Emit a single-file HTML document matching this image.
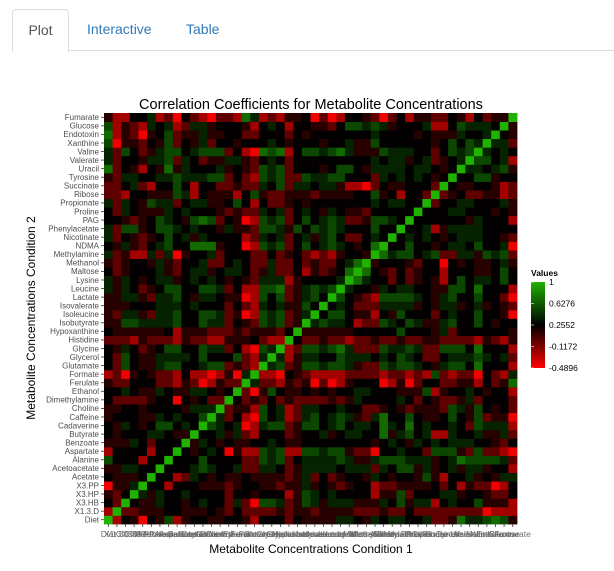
<!DOCTYPE html>
<html><head><meta charset="utf-8"><style>
body{margin:0;background:#fff;font-family:"Liberation Sans",sans-serif;width:614px;height:571px;overflow:hidden;position:relative}
.tab{position:absolute;top:9px;height:41px;line-height:41px;font-size:14px}
</style></head><body>
<div style="position:absolute;left:68px;top:50px;width:546px;height:1px;background:#ddd"></div>
<div class="tab" style="left:12px;width:55px;border:1px solid #ddd;border-bottom:none;border-radius:4px 4px 0 0;background:#fff;color:#555;text-align:center;height:42px">Plot</div>
<div class="tab" style="left:87px;color:#337ab7">Interactive</div>
<div class="tab" style="left:186px;color:#337ab7">Table</div>
<svg id="chart" width="614" height="571" style="position:absolute;left:0;top:0" xmlns="http://www.w3.org/2000/svg">
<text x="311" y="109" text-anchor="middle" font-size="14.5" fill="#000" font-family="Liberation Sans, sans-serif">Correlation Coefficients for Metabolite Concentrations</text>
<text x="311" y="553" text-anchor="middle" font-size="12" fill="#000" font-family="Liberation Sans, sans-serif">Metabolite Concentrations Condition 1</text>
<text transform="translate(35,318) rotate(-90)" text-anchor="middle" font-size="12" fill="#000" font-family="Liberation Sans, sans-serif">Metabolite Concentrations Condition 2</text>
<g id="cells"></g><g id="ylab"></g><g id="xlab"></g>
<defs><linearGradient id="lg" x1="0" y1="1" x2="0" y2="0">
<stop offset="0" stop-color="#ff0000"/><stop offset="0.5" stop-color="#000"/><stop offset="1" stop-color="#1fb300"/></linearGradient></defs>
<text x="531" y="276" font-size="8.5" font-weight="bold" font-family="Liberation Sans, sans-serif">Values</text>
<rect x="531" y="282" width="14" height="86" fill="url(#lg)"/>
<g id="leg" font-size="8.5" fill="#000" font-family="Liberation Sans, sans-serif"></g>
</svg>
<script>
const metabolites = ["Diet","X1.3.D","X3.HB","X3.HP","X3.PP","Acetate","Acetoacetate","Alanine","Aspartate","Benzoate","Butyrate","Cadaverine","Caffeine","Choline","Dimethylamine","Ethanol","Ferulate","Formate","Glutamate","Glycerol","Glycine","Histidine","Hypoxanthine","Isobutyrate","Isoleucine","Isovalerate","Lactate","Leucine","Lysine","Maltose","Methanol","Methylamine","NDMA","Nicotinate","Phenylacetate","PAG","Proline","Propionate","Ribose","Succinate","Tyrosine","Uracil","Valerate","Valine","Xanthine","Endotoxin","Glucose","Fumarate"];
// correlation level codes -> values
const levelValues = [-0.45,-0.22,-0.02,0.14,0.25,0.4,0.55,0.7,0.85];
// lower triangle (row i, columns 0..i-1) as level codes
const lowerTriangle = ["",
"1","42","324","0335","43334","335544","6444144","14444144","333542444","4344455433",
"43543466454","344433545446","3344344443555","42222344043422","445433543355434",
"3224442213201322",
"1203432214110130 5",
"4264335664456623 21",
"4264335555464446 215",
"4354234664465524 1065",
"2221322213221133 34211",
"4333333413332223 233324",
"3366555564465524 3265623",
"3255325564466523 01656235",
"3334445554544424 215453364",
"3355325564355433 0164623564",
"5354234664466524 11667235656",
"5354345534545434 325551344445",
"4234445324553455 4235224132347",
"3234435324452245 42252242322457",
"5231152503445244 422423421213443",
"4353245644777344 0165624645654347",
"5243234645354444 1254524535642245 4",
"5266346654544353 3266536465654446 44",
"4432346543676243 0165624645652236 654",
"4254333545444323 2254524543543324 4444",
"5254365524553346 4142234344444445 45544",
"2214433365143331 4632233323333446 341442",
"2245214464144223 2254625545531102 4334442",
"3255445565556624 2165622655664442 54545434",
"7243143735444534 3265624443466435 555455434",
"5244355625423355 3245424444444445 4553452345",
"5264235664566624 1076714665675333 65554424656",
"6033243624352443 4445434443445336 444444346465",
"7132034623353344 2244424344444445 4444343335445",
"6132154512553444 3145414433246656 53444511465554",
"3114451204210221 7512133402014432 024133224314233"];
const tickValues = [1,0.6276,0.2552,-0.1172,-0.4896];
</script>
<script>
const X0=104,X1=517,Y0=113,Y1=524,N=metabolites.length;
const cw=(X1-X0)/N, ch=(Y1-Y0)/N;
const vmin=-0.4896,vmax=1,vmid=0.2552;
function xPos(i){return X0+i*cw;}
function yPos(i){return Y1-(i+1)*ch;}
function color(v){
  let r,g,b;
  if(v<vmid){const t=Math.min(1,(vmid-v)/(vmid-vmin));r=255*t;g=0;b=0;}
  else{const t=Math.min(1,(v-vmid)/(vmax-vmid));r=31*t;g=179*t;b=0;}
  return `rgb(${Math.round(r)},${Math.round(g)},${Math.round(b)})`;
}
function value(i,j){
  if(i===j) return 1;
  const a=Math.max(i,j),b=Math.min(i,j);
  const s=(lowerTriangle[a]||"").replace(/\s/g,"");
  const c=s[b];
  return c===undefined?0.25:levelValues[+c];
}
const ns="http://www.w3.org/2000/svg";
const cells=document.getElementById('cells');
for(let i=0;i<N;i++)for(let j=0;j<N;j++){
  const r=document.createElementNS(ns,'rect');
  r.setAttribute('x',xPos(j));r.setAttribute('y',yPos(i));
  r.setAttribute('width',cw+0.4);r.setAttribute('height',ch+0.4);
  r.setAttribute('fill',color(value(i,j)));
  
  
  cells.appendChild(r);
}
const yl=document.getElementById('ylab'),xl=document.getElementById('xlab');
metabolites.forEach((m,i)=>{
  const t=document.createElementNS(ns,'text');
  t.setAttribute('x',99);t.setAttribute('y',yPos(i)+ch/2+2.8);
  t.setAttribute('text-anchor','end');t.setAttribute('font-size','8');t.setAttribute('fill','#4d4d4d');
  t.setAttribute('font-family','Liberation Sans, sans-serif');
  t.textContent=m;
  
  
  yl.appendChild(t);
  const tk=document.createElementNS(ns,'line');
  tk.setAttribute('x1',101);tk.setAttribute('x2',104);tk.setAttribute('y1',yPos(i)+ch/2);tk.setAttribute('y2',yPos(i)+ch/2);tk.setAttribute('stroke','#333');tk.setAttribute('stroke-width','0.8');
  
  
  yl.appendChild(tk);
  const x=document.createElementNS(ns,'text');
  x.setAttribute('x',xPos(i)+cw/2);x.setAttribute('y',537);
  x.setAttribute('text-anchor','middle');x.setAttribute('font-size','8.5');x.setAttribute('fill','#6d6d6d');
  x.setAttribute('font-family','Liberation Sans, sans-serif');
  x.textContent=m;
  
  
  xl.appendChild(x);
  const xt=document.createElementNS(ns,'line');
  xt.setAttribute('x1',xPos(i)+cw/2);xt.setAttribute('x2',xPos(i)+cw/2);xt.setAttribute('y1',524);xt.setAttribute('y2',527);xt.setAttribute('stroke','#333');xt.setAttribute('stroke-width','0.8');
  
  
  xl.appendChild(xt);
});
const leg=document.getElementById('leg');
tickValues.forEach(v=>{
  const y=368-(v-vmin)/(vmax-vmin)*86;
  const t=document.createElementNS(ns,'text');
  t.setAttribute('x',549);t.setAttribute('y',y+3);t.textContent=String(v);
  
  
  leg.appendChild(t);
  const l=document.createElementNS(ns,'line');
  l.setAttribute('x1',531);l.setAttribute('x2',534);l.setAttribute('y1',y);l.setAttribute('y2',y);l.setAttribute('stroke','#fff');l.setAttribute('stroke-width','0.6');
  
  
  leg.appendChild(l);
});
</script>
</body></html>
